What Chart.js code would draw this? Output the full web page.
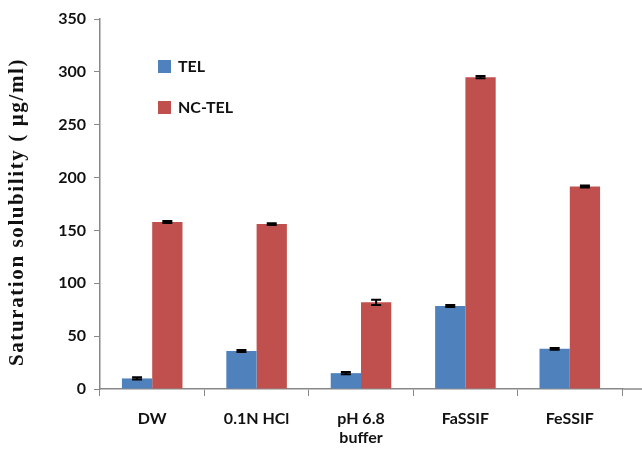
<!DOCTYPE html>
<html lang="en">
<head>
    <meta charset="UTF-8">
    <title>Saturation solubility</title>
    <script src="https://cdn.jsdelivr.net/npm/chart.js"></script>
    <style>
        body {
            margin: 0;
            padding: 0;
            background-color: #fff;
        }

        .chart-container {
            width: 642px;
            height: 452px;
        }
    </style>
</head>
<body>
    <div class="chart-container">
        <canvas id="barChart"></canvas>
    </div>

    <script>
        // dados
        const categorias = [["DW"], ["0.1N HCl"], ["pH 6.8", "buffer"], ["FaSSIF"], ["FeSSIF"]];
        const tel = [10, 36, 15, 78.5, 38];
        const telErro = [1, 1, 1, 1, 0.8];
        const ncTel = [158, 156, 82, 295, 191.5];
        const ncTelErro = [1, 0.8, 2.5, 1, 1];
        const ticksY = [0, 50, 100, 150, 200, 250, 300, 350];
        const tituloY = "Saturation solubility ( µg/ml)";

        const fonteTicks = { family: "Lato, 'Open Sans', sans-serif", size: 16, weight: "bold" };

        // barras de erro desenhadas pela escala do eixo y
        const errorBars = {
            id: "errorBars",
            afterDatasetsDraw(chart) {
                const ctx = chart.ctx;
                const y = chart.scales.y;
                ctx.save();
                ctx.strokeStyle = "#000";
                ctx.lineWidth = 2;
                chart.data.datasets.forEach((ds, i) => {
                    const meta = chart.getDatasetMeta(i);
                    meta.data.forEach((bar, j) => {
                        const v = ds.data[j];
                        const e = ds.erros[j];
                        const top = y.getPixelForValue(v + e);
                        const bot = y.getPixelForValue(v - e);
                        ctx.beginPath();
                        ctx.moveTo(bar.x, top);
                        ctx.lineTo(bar.x, bot);
                        ctx.moveTo(bar.x - 5, top);
                        ctx.lineTo(bar.x + 5, top);
                        ctx.moveTo(bar.x - 5, bot);
                        ctx.lineTo(bar.x + 5, bot);
                        ctx.stroke();
                    });
                });
                ctx.restore();
            }
        };

        // legenda dentro da área do gráfico + título do eixo y com espaçamento
        const legendaInterna = {
            id: "legendaInterna",
            afterDraw(chart) {
                const ctx = chart.ctx;
                const area = chart.chartArea;

                // linha do eixo x continua até a borda
                ctx.save();
                ctx.strokeStyle = "#888";
                ctx.lineWidth = 1.5;
                ctx.beginPath();
                ctx.moveTo(area.right, area.bottom);
                ctx.lineTo(chart.width, area.bottom);
                ctx.stroke();
                ctx.restore();

                ctx.save();
                ctx.font = "bold 16px Lato, 'Open Sans', sans-serif";
                ctx.textBaseline = "middle";
                chart.data.datasets.forEach((ds, i) => {
                    const yy = 66 + i * 41;
                    ctx.fillStyle = ds.backgroundColor;
                    ctx.fillRect(158, yy - 6, 13, 13);
                    ctx.fillStyle = "#111";
                    ctx.fillText(ds.label, 178, yy + 1);
                });
                ctx.restore();

                ctx.save();
                ctx.translate(18, 212);
                ctx.rotate(-Math.PI / 2);
                ctx.font = "bold 21px 'Liberation Serif', 'DejaVu Serif', serif";
                ctx.letterSpacing = "1.6px";
                ctx.textAlign = "center";
                ctx.textBaseline = "middle";
                ctx.fillStyle = "#111";
                ctx.fillText(tituloY, 0, 0);
                ctx.restore();
            }
        };

        new Chart(document.getElementById("barChart"), {
            type: "bar",
            data: {
                labels: categorias,
                datasets: [
                    { label: "TEL", data: tel, erros: telErro, backgroundColor: "#4F81BD" },
                    { label: "NC-TEL", data: ncTel, erros: ncTelErro, backgroundColor: "#C0504D" }
                ]
            },
            options: {
                responsive: true,
                maintainAspectRatio: false,
                animation: false,
                layout: { padding: { left: 0, right: 20, top: 19, bottom: 0 } },
                datasets: { bar: { categoryPercentage: 0.58, barPercentage: 1 } },
                plugins: {
                    legend: { display: false },
                    tooltip: { enabled: false }
                },
                scales: {
                    x: {
                        grid: { display: true, drawOnChartArea: false, offset: true, tickLength: 7, color: "#888", tickColor: "#888" },
                        border: { color: "#888", width: 1.5 },
                        ticks: { color: "#111", font: fonteTicks, padding: 13, maxRotation: 0 },
                        afterFit(scale) { scale.height = 63; }
                    },
                    y: {
                        min: 0,
                        max: 350,
                        afterBuildTicks(scale) { scale.ticks = ticksY.map(v => ({ value: v })); },
                        grid: { display: true, drawOnChartArea: false, tickLength: 6, color: "#888", tickColor: "#888" },
                        border: { color: "#888", width: 1.5 },
                        ticks: { color: "#111", font: fonteTicks, padding: 8 },
                        afterFit(scale) { scale.width = 100; }
                    }
                }
            },
            plugins: [errorBars, legendaInterna]
        });
    </script>
</body>
</html>
